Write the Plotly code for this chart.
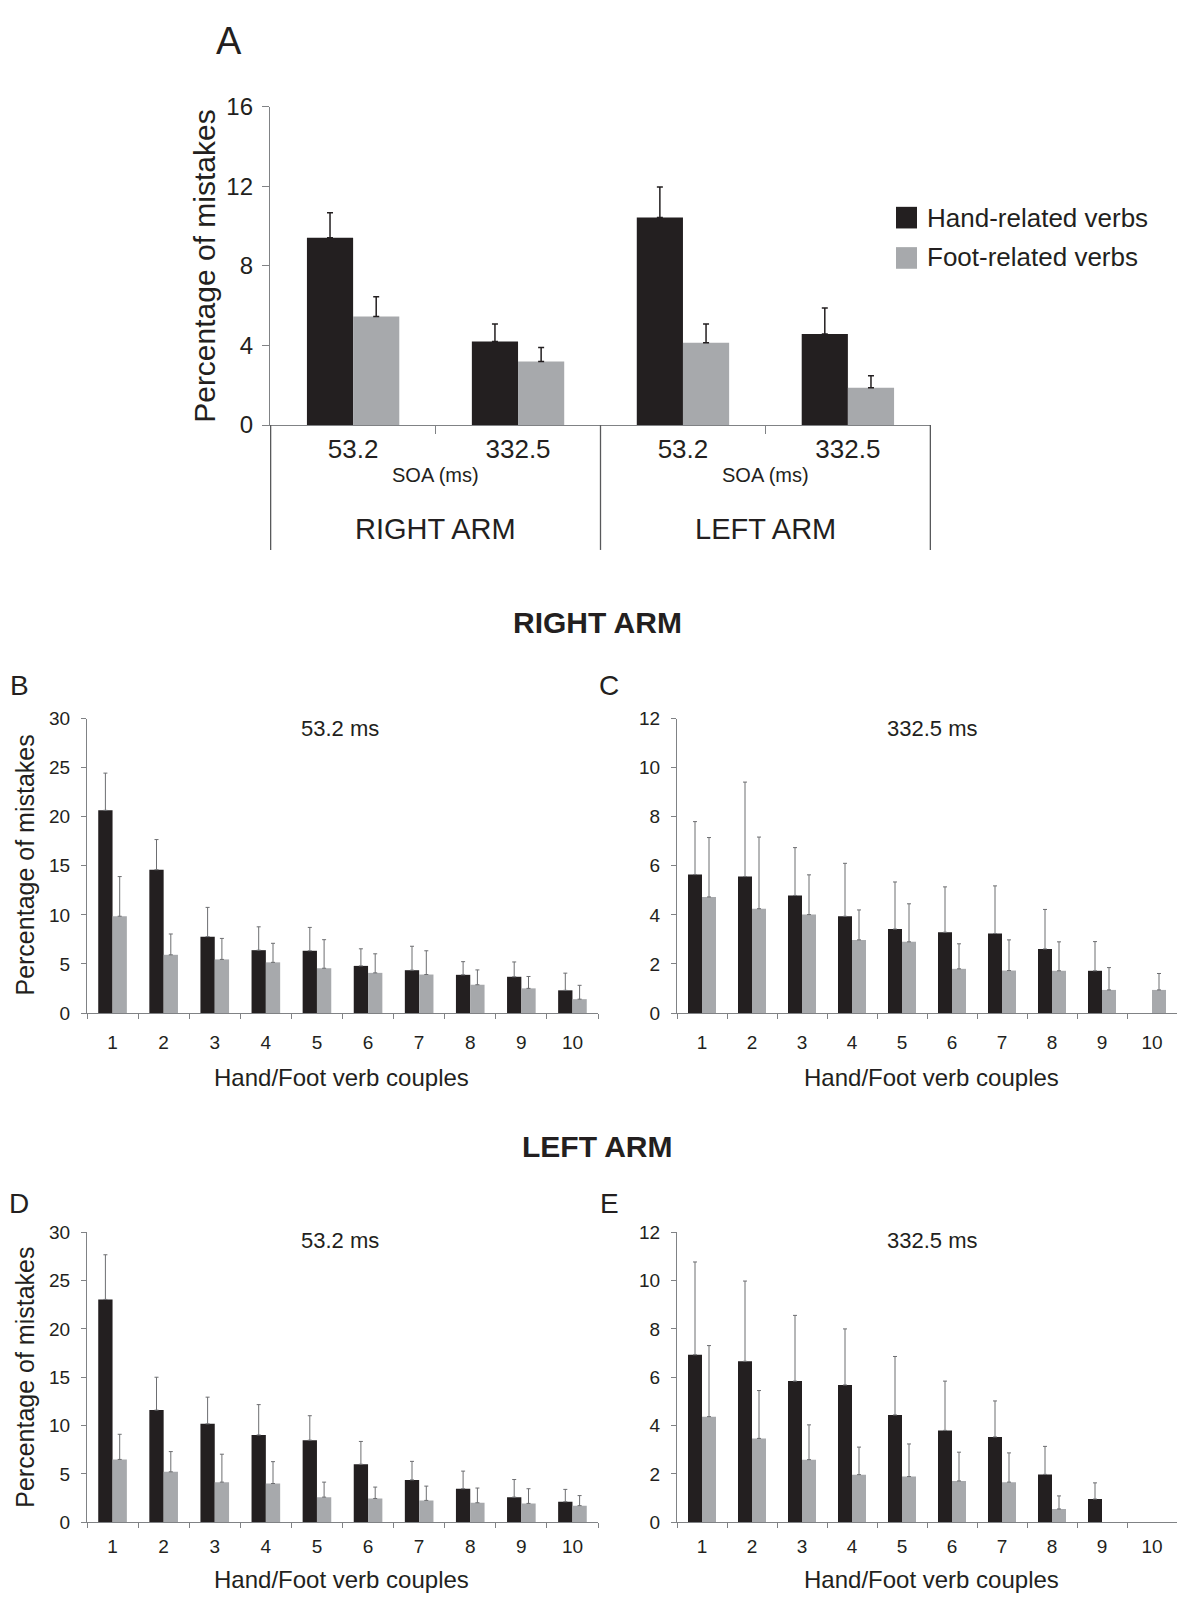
import plotly.graph_objects as go

# The page body keeps a default 8px margin on every side, so the figure is
# made 16px smaller than the window and every reference pixel position is
# shifted by that margin. This avoids any page overflow.
W, H = 1185, 1617
OFF = 8
FW, FH = W - 2 * OFF, H - 2 * OFF
FONT = "Liberation Sans, Arial, sans-serif"
TXT = "#231f20"
AXC = "#808285"
HAND_C = "#231f20"
FOOT_C = "#a7a9ac"

# ---------------- Panel A data ----------------
a_cats = ["R53", "R332", "L53", "L332"]
a_ticktext = ["53.2", "332.5", "53.2", "332.5"]
a_hand = [9.41, 4.20, 10.43, 4.58]
a_hand_err = [1.26, 0.88, 1.53, 1.30]
a_foot = [5.45, 3.20, 4.13, 1.88]
a_foot_err = [1.00, 0.70, 0.95, 0.60]

# ---------------- Panels B-E data ----------------
couples = ["1", "2", "3", "4", "5", "6", "7", "8", "9", "10"]

b_hand = [20.65, 14.6, 7.78, 6.4, 6.34, 4.8, 4.36, 3.89, 3.69, 2.31]
b_hand_err = [3.79, 3.07, 2.98, 2.38, 2.38, 1.74, 2.44, 1.34, 1.51, 1.75]
b_foot = [9.86, 5.93, 5.46, 5.16, 4.56, 4.09, 3.92, 2.88, 2.51, 1.41]
b_foot_err = [4.04, 2.12, 2.14, 1.94, 2.91, 1.94, 2.42, 1.51, 1.21, 1.41]

c_hand = [5.64, 5.56, 4.79, 3.94, 3.42, 3.29, 3.24, 2.61, 1.72, 0]
c_hand_err = [2.16, 3.85, 1.95, 2.16, 1.92, 1.85, 1.94, 1.61, 1.19, 0]
c_foot = [4.73, 4.25, 4.01, 2.98, 2.9, 1.8, 1.73, 1.72, 0.94, 0.94]
c_foot_err = [2.42, 2.92, 1.62, 1.22, 1.55, 1.02, 1.25, 1.18, 0.91, 0.67]

d_hand = [23.05, 11.6, 10.18, 9.03, 8.49, 6.0, 4.38, 3.47, 2.6, 2.12]
d_hand_err = [4.62, 3.4, 2.76, 3.14, 2.53, 2.36, 1.92, 1.82, 1.82, 1.28]
d_foot = [6.5, 5.22, 4.15, 4.01, 2.6, 2.46, 2.26, 2.02, 1.95, 1.72]
d_foot_err = [2.6, 2.09, 2.89, 2.26, 1.55, 1.18, 1.48, 1.52, 1.52, 1.04]

e_hand = [6.93, 6.66, 5.84, 5.68, 4.44, 3.8, 3.53, 1.98, 0.96, 0]
e_hand_err = [3.84, 3.32, 2.72, 2.32, 2.42, 2.04, 1.49, 1.16, 0.67, 0]
e_foot = [4.37, 3.47, 2.59, 1.97, 1.89, 1.71, 1.66, 0.55, 0, 0]
e_foot_err = [2.94, 1.98, 1.44, 1.14, 1.35, 1.19, 1.21, 0.54, 0, 0]

legend_names = ["Hand-related verbs", "Foot-related verbs"]


def px(x):
    return min(1.0, max(0.0, (x - OFF) / FW))


def py(y):
    return min(1.0, max(0.0, 1 - (y - OFF) / FH))


def err_arrays(vals, errs):
    # no error bar at all where the bar value is zero
    up = [e if v > 0 else "NaN" for v, e in zip(vals, errs)]
    down = [0 if v > 0 else "NaN" for v in vals]
    return up, down


fig = go.Figure()


def add_pair(xa, ya, cats, hand, hand_err, foot, foot_err, errc, thick, capw):
    for vals, errs, col, name in [(hand, hand_err, HAND_C, legend_names[0]),
                                  (foot, foot_err, FOOT_C, legend_names[1])]:
        up, down = err_arrays(vals, errs)
        fig.add_trace(go.Bar(
            x=cats, y=vals, xaxis=xa, yaxis=ya, marker_color=col,
            marker_line_width=0, showlegend=False, name=name,
            error_y=dict(type="data", symmetric=False, array=up,
                         arrayminus=down, color=errc,
                         thickness=thick, width=capw)))


add_pair("x", "y", a_cats, a_hand, a_hand_err, a_foot, a_foot_err,
         "#231f20", 1.5, 3)
add_pair("x2", "y2", couples, b_hand, b_hand_err, b_foot, b_foot_err,
         "#6d6e71", 1, 2)
add_pair("x3", "y3", couples, c_hand, c_hand_err, c_foot, c_foot_err,
         "#6d6e71", 1, 2)
add_pair("x4", "y4", couples, d_hand, d_hand_err, d_foot, d_foot_err,
         "#6d6e71", 1, 2)
add_pair("x5", "y5", couples, e_hand, e_hand_err, e_foot, e_foot_err,
         "#6d6e71", 1, 2)

common_x = dict(type="category", showline=True, linecolor=AXC, linewidth=1.3,
                ticks="outside", tickson="boundaries", tickcolor=AXC,
                showgrid=False, zeroline=False, fixedrange=True)
common_y = dict(showline=True, linecolor=AXC, linewidth=1.3, ticks="outside",
                tickcolor=AXC, showgrid=False, zeroline=False)

xa_dom = [px(270), px(931)]
xb_dom = [px(87), px(598)]
xc_dom = [px(677), px(1185)]
ya_dom = [py(418), py(94)]
yb_dom = [py(1016), py(716.5)]
yd_dom = [py(1534), py(1239)]

small_tick = dict(family=FONT, size=19, color=TXT)

fig.update_layout(
    width=FW, height=FH,
    margin=dict(l=0, r=0, t=0, b=0),
    paper_bgcolor="white", plot_bgcolor="white",
    barmode="group", bargap=0.44, bargroupgap=0,
    showlegend=False,
    font=dict(family=FONT, color=TXT),
    xaxis=dict(common_x, domain=xa_dom, anchor="y",
               tickmode="array", tickvals=a_cats, ticktext=a_ticktext,
               ticklen=8, ticklabelstandoff=1,
               tickfont=dict(family=FONT, size=26, color=TXT)),
    yaxis=dict(common_y, domain=ya_dom, anchor="x", range=[0, 16],
               tickvals=[0, 4, 8, 12, 16], ticklen=7, ticklabelstandoff=4,
               tickfont=dict(family=FONT, size=24, color=TXT)),
    xaxis2=dict(common_x, domain=xb_dom, anchor="y2", ticklen=5,
                ticklabelstandoff=12, tickfont=small_tick),
    yaxis2=dict(common_y, domain=yb_dom, anchor="x2", range=[0, 30],
                dtick=5, ticklen=5, ticklabelstandoff=7, tickfont=small_tick),
    xaxis3=dict(common_x, domain=xc_dom, anchor="y3", ticklen=5,
                ticklabelstandoff=12, tickfont=small_tick),
    yaxis3=dict(common_y, domain=yb_dom, anchor="x3", range=[0, 12],
                dtick=2, ticklen=5, ticklabelstandoff=7, tickfont=small_tick),
    xaxis4=dict(common_x, domain=xb_dom, anchor="y4", ticklen=5,
                ticklabelstandoff=7, tickfont=small_tick),
    yaxis4=dict(common_y, domain=yd_dom, anchor="x4", range=[0, 30],
                dtick=5, ticklen=5, ticklabelstandoff=7, tickfont=small_tick),
    xaxis5=dict(common_x, domain=xc_dom, anchor="y5", ticklen=5,
                ticklabelstandoff=7, tickfont=small_tick),
    yaxis5=dict(common_y, domain=yd_dom, anchor="x5", range=[0, 12],
                dtick=2, ticklen=5, ticklabelstandoff=7, tickfont=small_tick),
)

# ---- Panel A separators (category boundaries) ----
for xb in [-0.5, 1.5, 3.5]:
    fig.add_shape(type="line", xref="x", yref="paper", x0=xb, x1=xb,
                  y0=py(545), y1=py(418), line=dict(color="#58595b", width=1.3))

annots = []


def txt(text, x, y, size, xref="paper", xanchor="center", bold=False, angle=0):
    annots.append(dict(text=("<b>%s</b>" % text) if bold else text,
                       x=x, y=y, xref=xref, yref="paper", xanchor=xanchor,
                       yanchor="middle", showarrow=False, textangle=angle,
                       font=dict(family=FONT, size=size, color=TXT)))


# Panel A texts
txt("A", px(229), py(27), 38)
txt("Percentage of mistakes", px(205), py(256), 30, angle=-90)
for xc in [0.5, 2.5]:
    txt("SOA (ms)", xc, py(469), 20, xref="x")
txt("RIGHT ARM", 0.5, py(524), 29, xref="x")
txt("LEFT ARM", 2.5, py(524), 29, xref="x")

# Legend (drawn manually)
for (y0, y1, col, name, yc) in [(196, 218, HAND_C, legend_names[0], 207),
                                (237, 259, FOOT_C, legend_names[1], 247)]:
    fig.add_shape(type="rect", xref="paper", yref="paper",
                  x0=px(896), x1=px(917), y0=py(y1), y1=py(y0),
                  fillcolor=col, line=dict(width=0))
    txt(name, px(925), py(yc), 26, xanchor="left")

# Section headers
txt("RIGHT ARM", px(597), py(619), 30, bold=True)
txt("LEFT ARM", px(597), py(1152), 30, bold=True)

# Panel letters
txt("B", px(19), py(683), 28)
txt("C", px(609), py(683), 28)
txt("D", px(19), py(1210), 28)
txt("E", px(609), py(1210), 28)

# Sub-titles
txt("53.2 ms", px(340), py(727), 22)
txt("332.5 ms", px(932), py(727), 22)
txt("53.2 ms", px(340), py(1247), 22)
txt("332.5 ms", px(932), py(1247), 22)

# Axis titles
txt("Percentage of mistakes", px(25), py(866), 25, angle=-90)
txt("Percentage of mistakes", px(25), py(1387), 25, angle=-90)
txt("Hand/Foot verb couples", px(341), py(1082), 24)
txt("Hand/Foot verb couples", px(931), py(1082), 24)
txt("Hand/Foot verb couples", px(341), py(1592), 24)
txt("Hand/Foot verb couples", px(931), py(1592), 24)

fig.update_layout(annotations=annots)

fig.write_html("out.html")
